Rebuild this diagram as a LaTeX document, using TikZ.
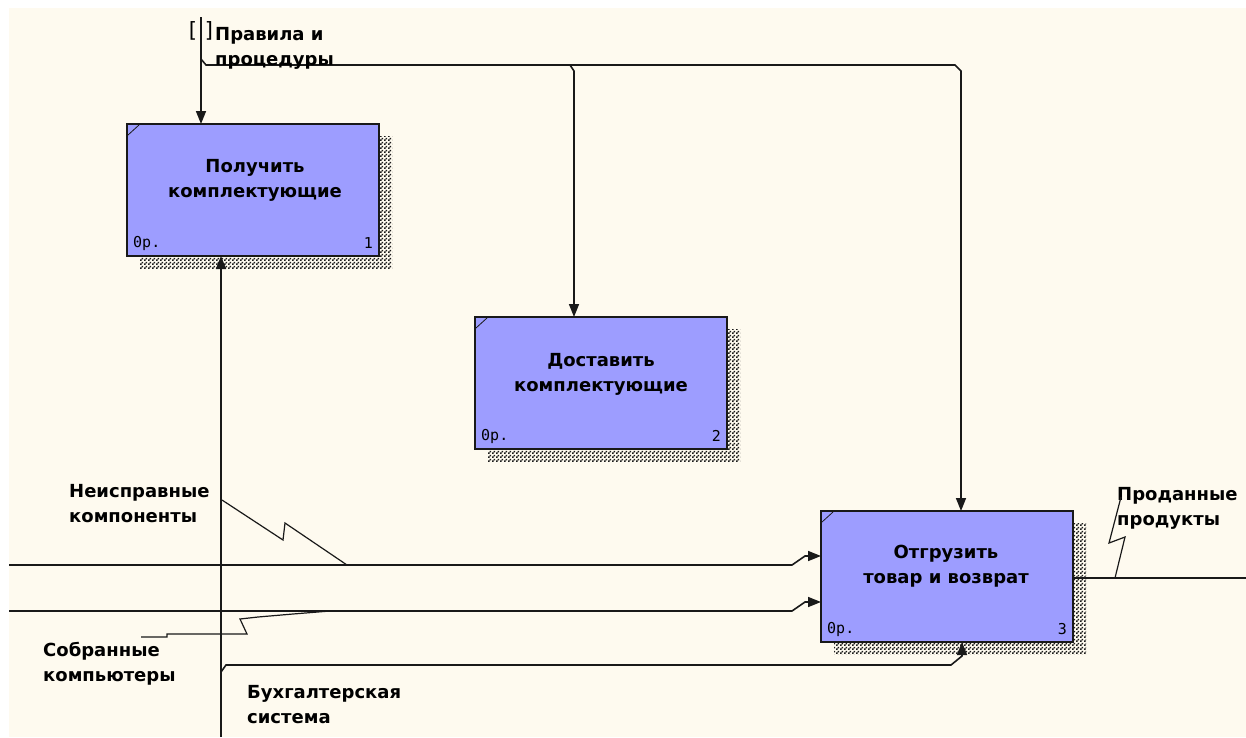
\documentclass[tikz,border=0pt]{standalone}
\usepackage{fontspec}
\setmainfont{DejaVu Sans}
\newfontfamily\codefont{DejaVu Sans Mono}
\usetikzlibrary{arrows.meta,patterns,shadows}

\definecolor{paper}{RGB}{254,250,239}
\definecolor{actfill}{RGB}{157,157,255}
\definecolor{ink}{RGB}{25,25,25}

% checkerboard dither used for the drop shadows
\pgfdeclarepatternformonly{dither}{\pgfqpoint{0pt}{0pt}}{\pgfqpoint{4pt}{4pt}}{\pgfqpoint{4pt}{4pt}}{%
  \pgfpathrectangle{\pgfqpoint{0pt}{0pt}}{\pgfqpoint{2pt}{2pt}}%
  \pgfpathrectangle{\pgfqpoint{2pt}{2pt}}{\pgfqpoint{2pt}{2pt}}%
  \pgfusepath{fill}}

\tikzset{
  activity/.style={draw=ink, line width=1.6pt, fill=actfill,
    minimum width=252pt, minimum height=132pt, inner sep=0pt, outer sep=0pt,
    anchor=north west,
    general shadow={shadow xshift=13pt, shadow yshift=-12pt,
      pattern=dither, pattern color=black!90}},
  arrowline/.style={draw=ink, line width=1.6pt, line join=miter},
  tip/.style={-{Triangle[length=13pt,width=10pt]}},
  squiggle/.style={draw=ink, line width=1.2pt},
  lbl/.style={font=\bfseries\fontsize{18}{25}\selectfont, align=left,
    inner sep=0pt, anchor=west},
  boxtext/.style={font=\bfseries\fontsize{18}{25}\selectfont, align=center,
    inner sep=0pt},
  refcode/.style={font=\codefont\fontsize{15}{15}\selectfont, inner sep=0pt},
  bracket/.style={font=\fontsize{21}{21}\selectfont, inner sep=0pt},
  cornertick/.style={draw=ink, line width=0.8pt},
}

\begin{document}
\begin{tikzpicture}[x=1pt, y=-1pt]
  % canvas
  \fill[white] (0,0) rectangle (1246,737);
  \fill[paper] (9,8) rectangle (1246,737);
  \useasboundingbox (0,0) rectangle (1246,737);

  % activities
  \node[activity, minimum height=132pt] (b1) at (127,124) {};
  \node[activity, minimum height=132pt] (b2) at (475,317) {};
  \node[activity, minimum height=131pt] (b3) at (821,511) {};

  \foreach \b in {b1,b2,b3}
    \draw[cornertick] ([shift={(1,11)}]\b.north west) -- ([shift={(12,1)}]\b.north west);

  \node[boxtext] (b1t) at (255,180) {Получить\\комплектующие};
  \node[boxtext] (b2t) at (601,374) {Доставить\\комплектующие};
  \node[boxtext] (b3t) at (946,566) {Отгрузить\\товар и возврат};

  \node[refcode, anchor=west] (b1c) at ([shift={(6,-13)}]b1.south west) {0р.};
  \node[refcode, anchor=east] (b1n) at ([shift={(-6,-13)}]b1.south east) {1};
  \node[refcode, anchor=west] (b2c) at ([shift={(6,-13)}]b2.south west) {0р.};
  \node[refcode, anchor=east] (b2n) at ([shift={(-6,-13)}]b2.south east) {2};
  \node[refcode, anchor=west] (b3c) at ([shift={(6,-13)}]b3.south west) {0р.};
  \node[refcode, anchor=east] (b3n) at ([shift={(-6,-13)}]b3.south east) {3};

  % control: rules and procedures (tunnelled in from the top)
  \coordinate (ctl) at (201,17);
  \coordinate (ctlJ) at (201,59);
  \draw[arrowline,tip] (ctl) -- (ctl |- b1.north);
  \draw[arrowline,tip] (ctlJ) -- (206,65) -- (955,65) -- (961,71) -- (961,0 |- b3.north);
  \draw[arrowline,tip] (570,65) -- (574,71) -- (574,0 |- b2.north);

  % mechanism: accounting system
  \coordinate (mech) at (221,737);
  \coordinate (mechJ) at (221,672);
  \draw[arrowline,tip] (mech) -- (mech |- b1.south);
  \draw[arrowline,tip] (mechJ) -- (226,665) -- (951,665) -- (962,656) -- (962,0 |- b3.south);

  % inputs into activity 3
  \coordinate (inA) at (9,565);
  \coordinate (inB) at (9,611);
  \draw[arrowline,tip] (inA) -- (792,565) -- (805,556) -- (b3.west |- 0,556);
  \draw[arrowline,tip] (inB) -- (792,611) -- (805,602) -- (b3.west |- 0,602);

  % output
  \coordinate (outEnd) at (1246,578);
  \draw[arrowline] (b3.east |- outEnd) -- (outEnd);

  % labels
  \node[bracket] (brL) at (193,31) {[};
  \node[bracket] (brR) at (209,31) {]};
  \node[lbl] (lblCtl) at (215,48) {Правила и\\процедуры};
  \node[lbl] (lblBad) at (69,504) {Неисправные\\компоненты};
  \node[lbl] (lblAsm) at (43,664) {Собранные\\компьютеры};
  \node[lbl] (lblAcc) at (247,705) {Бухгалтерская\\система};
  \node[lbl] (lblSold) at (1117,508) {Проданные\\продукты};

  % label leaders
  \draw[squiggle] (222,500) -- (283,540) -- (285,523) -- (347,565);
  \draw[squiggle] (141,637) -- (167,637) -- (167,634) -- (247,634) -- (240,619)
    -- (258,617) -- (293,614) -- (330,611);
  \draw[squiggle] (1115,578) -- (1125,537) -- (1109,543) -- (1121,497);
\end{tikzpicture}
\end{document}
